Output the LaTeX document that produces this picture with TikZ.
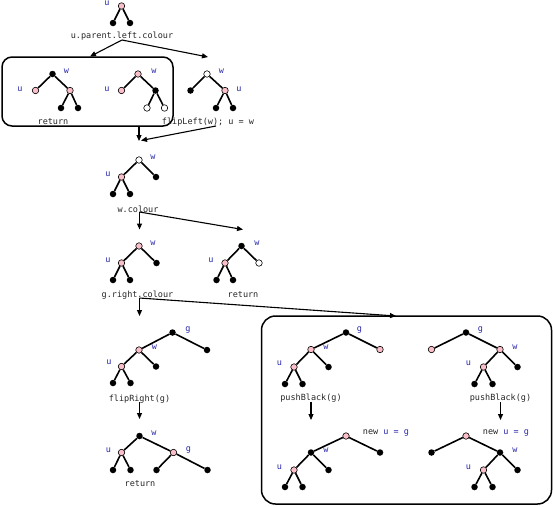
\documentclass[tikz,border=0pt]{standalone}
\usepackage{fontspec}
\newfontfamily\lfont{DejaVu Sans Mono}[Scale=1]
\usetikzlibrary{arrows.meta}
\definecolor{tpink}{RGB}{250,190,200}
\definecolor{lblue}{RGB}{40,40,170}
\tikzset{
 bn/.style={circle,fill=black,inner sep=0pt,minimum size=6.5pt},
 pn/.style={circle,fill=tpink,draw=black,line width=0.6pt,inner sep=0pt,minimum size=6.5pt},
 wn/.style={circle,fill=white,draw=black,line width=0.6pt,inner sep=0pt,minimum size=6.5pt},
 ed/.style={line width=1.6pt},
 lb/.style={text=lblue,font=\lfont\fontsize{8.5}{9}\selectfont,inner sep=0pt},
 tx/.style={text=black!85,font=\lfont\fontsize{8.5}{9}\selectfont,inner sep=0pt},
 ar/.style={line width=1.1pt,-{Triangle[length=6pt,width=5pt]}},
 bx/.style={line width=1.5pt,rounded corners=10pt}
}
\begin{document}
\begin{tikzpicture}[x=1pt,y=-1pt]
\useasboundingbox (0,0) rectangle (553,506);
% boxes
\draw[bx] (2,57) rectangle (173,126);
\draw[bx,rounded corners=14pt] (261.5,316) rectangle (551.5,504);
% Tree A
\node[pn] (A0) at (121.5,6) {};
\node[bn] (A1) at (113,23) {};
\node[bn] (A2) at (130,23) {};
\draw[ed] (A0)--(A1) (A0)--(A2);
\node[lb] (Au) at (107,3.4) {u};
\node[tx] (T1) at (122,36) {u.parent.left.colour};
\coordinate (s1) at (122,40);
\coordinate (c1L) at (90,56.5);
\coordinate (c1R) at (208,57);
\draw[ar] (s1)--(c1L);
\draw[ar] (s1)--(c1R);
% Tree B
\node[bn] (B0) at (52.5,74) {};
\node[pn] (B1) at (35.5,90.5) {};
\node[pn] (B2) at (70,90.5) {};
\node[bn] (B3) at (61,108) {};
\node[bn] (B4) at (78,108) {};
\draw[ed] (B0)--(B1) (B0)--(B2) (B2)--(B3) (B2)--(B4);
\node[lb] (Bw) at (66.5,71) {w};
\node[lb] (Bu) at (20,89) {u};
\node[tx] (T2) at (53,122) {return};
% Tree C
\node[pn] (C0) at (138,74) {};
\node[pn] (C1) at (121.5,90.5) {};
\node[bn] (C2) at (155.5,90.5) {};
\node[wn] (C3) at (147,108) {};
\node[wn] (C4) at (164.5,108) {};
\draw[ed] (C0)--(C1) (C0)--(C2) (C2)--(C3) (C2)--(C4);
\node[lb] (Cw) at (154,71) {w};
\node[lb] (Cu) at (107,89) {u};
% Tree D
\node[wn] (D0) at (207,74) {};
\node[bn] (D1) at (190.5,90.5) {};
\node[pn] (D2) at (225,90.5) {};
\node[bn] (D3) at (216,108) {};
\node[bn] (D4) at (233,108) {};
\draw[ed] (D0)--(D1) (D0)--(D2) (D2)--(D3) (D2)--(D4);
\node[lb] (Dw) at (221.5,71) {w};
\node[lb] (Du) at (239,89) {u};
\node[tx] (T3) at (208,122) {flipLeft(w); u = w};
\coordinate (b1s) at (139,126);
\coordinate (m1) at (139,141);
\coordinate (d1s) at (216,126);
\coordinate (m1b) at (141,140.5);
\draw[ar] (b1s)--(m1);
\draw[ar] (d1s)--(m1b);
% Tree E
\node[wn] (E0) at (139,160) {};
\node[pn] (E1) at (121.5,177) {};
\node[bn] (E2) at (156,177) {};
\node[bn] (E3) at (113,194) {};
\node[bn] (E4) at (130,194) {};
\draw[ed] (E0)--(E1) (E0)--(E2) (E1)--(E3) (E1)--(E4);
\node[lb] (Ew) at (153,157) {w};
\node[lb] (Eu) at (108,174) {u};
\node[tx] (T4) at (138,209) {w.colour};
\coordinate (s2) at (139.5,212);
\coordinate (c2D) at (139.5,229.5);
\coordinate (c2R) at (243,229.5);
\draw[ar] (s2)--(c2D);
\draw[ar] (s2)--(c2R);
% Tree F
\node[pn] (F0) at (139,246) {};
\node[pn] (F1) at (121.5,263) {};
\node[bn] (F2) at (156.5,263) {};
\node[bn] (F3) at (113,280) {};
\node[bn] (F4) at (130,280) {};
\draw[ed] (F0)--(F1) (F0)--(F2) (F1)--(F3) (F1)--(F4);
\node[lb] (Fw) at (153,243) {w};
\node[lb] (Fu) at (108,260) {u};
\node[tx] (T5) at (137.5,295) {g.right.colour};
% Tree G
\node[bn] (G0) at (241.5,246) {};
\node[pn] (G1) at (225,263) {};
\node[wn] (G2) at (259,263) {};
\node[bn] (G3) at (216.5,280) {};
\node[bn] (G4) at (233,280) {};
\draw[ed] (G0)--(G1) (G0)--(G2) (G1)--(G3) (G1)--(G4);
\node[lb] (Gw) at (257,243) {w};
\node[lb] (Gu) at (211,260) {u};
\node[tx] (T6) at (243,295) {return};
\coordinate (s3) at (139.5,298);
\coordinate (c3D) at (139.5,316);
\coordinate (c3R) at (396,316);
\draw[ar] (s3)--(c3D);
\draw[ar] (s3)--(c3R);
% Tree H
\node[bn] (H0) at (172.5,332.5) {};
\node[pn] (H1) at (139,350) {};
\node[bn] (H2) at (207,350) {};
\node[pn] (H3) at (121.5,366.5) {};
\node[bn] (H4) at (156,366.5) {};
\node[bn] (H5) at (113,383) {};
\node[bn] (H6) at (130.5,383) {};
\draw[ed] (H0)--(H1) (H0)--(H2) (H1)--(H3) (H1)--(H4) (H3)--(H5) (H3)--(H6);
\node[lb] (Hg) at (188,330.5) {g};
\node[lb] (Hw) at (154.5,347) {w};
\node[lb] (Hu) at (109,362) {u};
\node[tx] (T7) at (139.5,399) {flipRight(g)};
\coordinate (s4) at (139.5,402);
\coordinate (c4D) at (139.5,419);
\draw[ar] (s4)--(c4D);
% Tree I
\node[bn] (I0) at (139.5,436) {};
\node[pn] (I1) at (121.5,452.5) {};
\node[pn] (I2) at (173.5,452.5) {};
\node[bn] (I3) at (113,470) {};
\node[bn] (I4) at (130.5,470) {};
\node[bn] (I5) at (156.5,470) {};
\node[bn] (I6) at (207.5,470) {};
\draw[ed] (I0)--(I1) (I0)--(I2) (I1)--(I3) (I1)--(I4) (I2)--(I5) (I2)--(I6);
\node[lb] (Iw) at (154,433) {w};
\node[lb] (Iu) at (108.5,450) {u};
\node[lb] (Ig) at (188.5,450) {g};
\node[tx] (T8) at (140,484) {return};
% Tree J
\node[bn] (J0) at (346,332.5) {};
\node[pn] (J1) at (311,349.5) {};
\node[pn] (J2) at (380,349.5) {};
\node[pn] (J3) at (294,367) {};
\node[bn] (J4) at (328.5,367) {};
\node[bn] (J5) at (285,384) {};
\node[bn] (J6) at (302.5,384) {};
\draw[ed] (J0)--(J1) (J0)--(J2) (J1)--(J3) (J1)--(J4) (J3)--(J5) (J3)--(J6);
\node[lb] (Jg) at (359.5,330.5) {g};
\node[lb] (Jw) at (326,347) {w};
\node[lb] (Ju) at (279.5,363.5) {u};
\node[tx] (T9) at (311,398.5) {pushBlack(g)};
\coordinate (s5) at (311,402);
\coordinate (c5D) at (311,420);
\draw[ar] (s5)--(c5D);
% Tree K
\node[pn] (K0) at (346,436) {};
\node[bn] (K1) at (311,452.5) {};
\node[bn] (K2) at (380,452.5) {};
\node[pn] (K3) at (294,470) {};
\node[bn] (K4) at (328.5,470) {};
\node[bn] (K5) at (285,487) {};
\node[bn] (K6) at (302.5,487) {};
\draw[ed] (K0)--(K1) (K0)--(K2) (K1)--(K3) (K1)--(K4) (K3)--(K5) (K3)--(K6);
\node[lb] (Kw) at (326,450) {w};
\node[lb] (Ku) at (279.5,467) {u};
\node[tx] (T10) at (386,433.5) {new \textcolor{lblue}{u = g}};
% Tree L
\node[bn] (L0) at (466,332.5) {};
\node[pn] (L1) at (431.5,349.5) {};
\node[pn] (L2) at (500,349.5) {};
\node[pn] (L3) at (483.5,367) {};
\node[bn] (L4) at (517.5,367) {};
\node[bn] (L5) at (474.5,384) {};
\node[bn] (L6) at (492.5,384) {};
\draw[ed] (L0)--(L1) (L0)--(L2) (L2)--(L3) (L2)--(L4) (L3)--(L5) (L3)--(L6);
\node[lb] (Lg) at (480.5,330.5) {g};
\node[lb] (Lw) at (515,347) {w};
\node[lb] (Lu) at (468.5,363.5) {u};
\node[tx] (T11) at (500.5,398.5) {pushBlack(g)};
\coordinate (s6) at (500.5,402);
\coordinate (c6D) at (500.5,420);
\draw[ar] (s6)--(c6D);
% Tree M
\node[pn] (M0) at (466,436) {};
\node[bn] (M1) at (431.5,452.5) {};
\node[bn] (M2) at (500,452.5) {};
\node[pn] (M3) at (483.5,470) {};
\node[bn] (M4) at (517.5,470) {};
\node[bn] (M5) at (474.5,487) {};
\node[bn] (M6) at (492.5,487) {};
\draw[ed] (M0)--(M1) (M0)--(M2) (M2)--(M3) (M2)--(M4) (M3)--(M5) (M3)--(M6);
\node[lb] (Mw) at (515,450) {w};
\node[lb] (Mu) at (468.5,467) {u};
\node[tx] (T12) at (506,433.5) {new \textcolor{lblue}{u = g}};
\end{tikzpicture}
\end{document}
